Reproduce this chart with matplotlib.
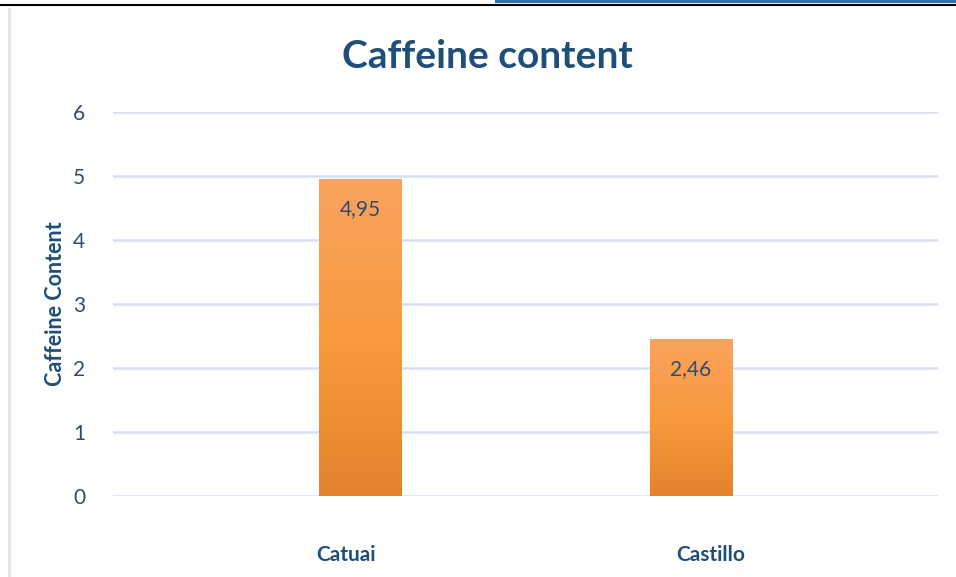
import numpy as np
import matplotlib.pyplot as plt
from matplotlib.colors import LinearSegmentedColormap
from matplotlib.lines import Line2D

# data
varieties = ['Catuai', 'Castillo']
caffeine = [4.95, 2.46]
labels = ['4,95', '2,46']

navy = '#1F4E79'
text_col = '#2F4B6E'

plt.rcParams['font.family'] = ['Lato', 'DejaVu Sans']

fig = plt.figure(figsize=(9.56, 5.77), dpi=100)
ax = fig.add_axes([0.118, 0.140, 0.863, 0.666])

x = np.arange(len(varieties))
width = 0.25
grad = LinearSegmentedColormap.from_list('orange', ['#E5832C', '#F99A3E', '#F9A35E'])
g = np.linspace(0, 1, 256).reshape(-1, 1)

bars = ax.bar(x, caffeine, width=width, color='none', zorder=3)
for b, lab in zip(bars, labels):
    x0, h = b.get_x(), b.get_height()
    im = ax.imshow(g, cmap=grad, origin='lower', aspect='auto',
                   extent=[x0, x0 + width, 0, h], zorder=3)
    im.set_clip_path(b)
    ax.text(b.get_x() + width / 2, h - 0.47, lab, ha='center', va='center',
            fontsize=15, color=text_col, zorder=4)

ax.set_xlim(-0.749, 1.747)
ax.set_ylim(0, 6)
ax.set_yticks(range(7))
ax.yaxis.grid(True, color='#D6E0F0', linewidth=1.8, zorder=0)
ax.set_axisbelow(True)
for s in ax.spines.values():
    s.set_visible(False)
ax.tick_params(axis='y', length=0, pad=20, labelsize=15, labelcolor=text_col)
ax.tick_params(axis='x', length=0, pad=35, labelsize=15, labelcolor=navy)
ax.set_xticks(x + np.array([-0.045, 0.06]))
ax.set_xticklabels(varieties, fontweight='bold')
ax.set_ylabel('Caffeine Content', fontsize=15.5, fontweight='bold', color=navy, labelpad=5)

fig.text(0.51, 0.902, 'Caffeine content', ha='center', va='center',
         fontsize=28, fontweight='bold', color=navy)

# chart frame remnants
fig.add_artist(Line2D([0.009, 0.009], [0.0, 0.985], color='#DCE6F2', linewidth=2))
fig.add_artist(Line2D([0.0, 1.0], [0.992, 0.992], color='black', linewidth=1.5))
fig.add_artist(Line2D([0.52, 1.0], [0.998, 0.998], color='#2E75A6', linewidth=3))

fig.savefig('out.png', dpi=100)
